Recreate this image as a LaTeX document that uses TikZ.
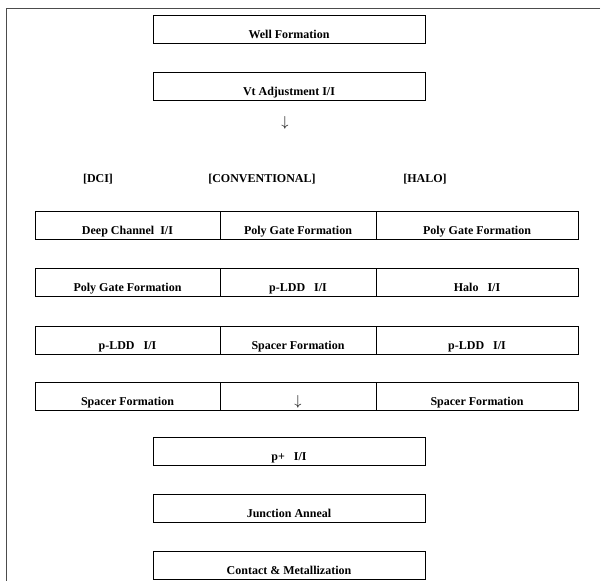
\documentclass[tikz,border=0pt]{standalone}
\usepackage{fontspec}
\setmainfont{Liberation Serif}
\usetikzlibrary{positioning}

\begin{document}
\begin{tikzpicture}[x=1pt,y=-1pt,font=\bfseries\fontsize{12}{14}\selectfont,
  box/.style={draw,line width=0.9pt,minimum height=28pt,inner sep=0pt,outer sep=0pt,
    text height=20pt,text depth=1pt,align=center},
  wide/.style={box,minimum width=272pt},
  lcell/.style={box,minimum width=185pt},
  mcell/.style={box,minimum width=156pt},
  rcell/.style={box,minimum width=202pt},
  head/.style={inner sep=1pt},
  down/.style={inner sep=0pt,font=\fontsize{14}{14}\selectfont}]
  \useasboundingbox (0,0) rectangle (602,581);
  % frame of the scanned page
  \draw[line width=0.6pt,black!70] (600,8) -- (6,8) -- (6,581);
  % common steps
  \node[wide] (well) at (289,29) {Well Formation};
  \node[wide,below=29pt of well] (vt) {Vt Adjustment I/I};
  \node[down] (dn) at (285,123) {$\downarrow$};
  % the three flows
  \node[head] (hdci) at (98,179) {[DCI]};
  \node[head] (hconv) at (262,179) {[CONVENTIONAL]};
  \node[head] (hhalo) at (425,179) {[HALO]};
  \node[mcell] (c1) at (298,225) {Poly Gate Formation};
  \node[lcell,left=0pt of c1] (d1) {Deep Channel\ \ I/I};
  \node[rcell,right=0pt of c1] (h1) {Poly Gate Formation};
  \node[mcell] (c2) at (298,282) {p-LDD\ \ \ I/I};
  \node[lcell,left=0pt of c2] (d2) {Poly Gate Formation};
  \node[rcell,right=0pt of c2] (h2) {Halo\ \ \ I/I};
  \node[mcell] (c3) at (298,340) {Spacer Formation};
  \node[lcell,left=0pt of c3] (d3) {p-LDD\ \ \ I/I};
  \node[rcell,right=0pt of c3] (h3) {p-LDD\ \ \ I/I};
  \node[mcell] (c4) at (298,396) {{\fontsize{14}{14}\selectfont$\downarrow$}};
  \node[lcell,left=0pt of c4] (d4) {Spacer Formation};
  \node[rcell,right=0pt of c4] (h4) {Spacer Formation};
  % common steps again
  \node[wide] (pp) at (289,451) {p+\ \ \ I/I};
  \node[wide,below=29pt of pp] (ja) {Junction Anneal};
  \node[wide,below=29pt of ja] (cm) {Contact \& Metallization};
\end{tikzpicture}
\end{document}
